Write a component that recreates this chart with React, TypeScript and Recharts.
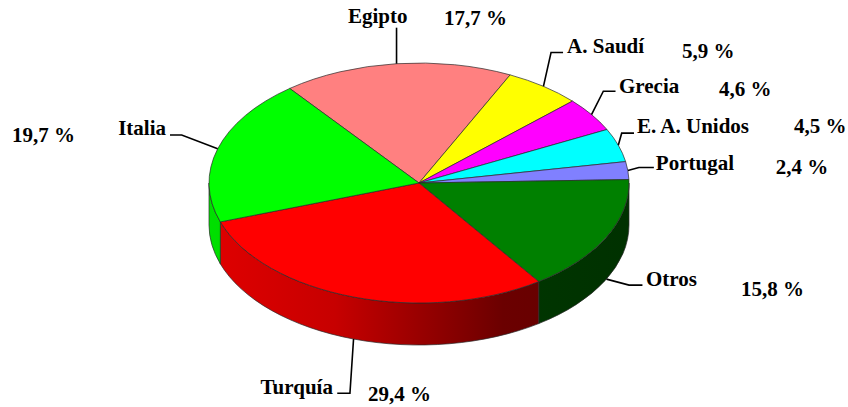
import { PieChart, Pie } from "recharts";

const paises = ["Egipto", "A. Saudí", "Grecia", "E. A. Unidos", "Portugal", "Otros", "Turquía", "Italia"];
const cuotas = [17.7, 5.9, 4.6, 4.5, 2.4, 15.8, 29.4, 19.7];
const colores = ["#FF8080", "#FFFF00", "#FF00FF", "#00FFFF", "#8080FF", "#008000", "#FF0000", "#00FF00"];

// leader lines and labels, offsets from the slice's anchor on the pie edge
const guias = [
  { linea: [[0, -36]], nombre: [-48.5, -41, "start"], pct: [47.5, -39] },
  { linea: [[7.6, -33.8], [19.6, -33.8]], nombre: [23.6, -33.3, "start"], pct: [138.6, -28.3] },
  { linea: [[11.8, -23.4], [24, -23.4]], nombre: [27.5, -22, "start"], pct: [127.5, -18.6] },
  { linea: [[3.4, -12], [15.7, -12]], nombre: [18.7, -12, "start"], pct: [175.7, -12.5] },
  { linea: [[11, -3], [26, -3]], nombre: [28, -1, "start"], pct: [148, 3.5] },
  { linea: [[22.6, 6], [36, 6]], nombre: [39.6, 6.5, "start"], pct: [134.6, 16.5] },
  { linea: [[-3.6, 54.3], [-16.3, 54.3]], nombre: [-20.6, 55, "end"], pct: [14.4, 62.3] },
  { linea: [[-36, -13.8], [-47.7, -13.8]], nombre: [-51.7, -13.8, "end"], pct: [-205.7, -6.8] },
];

const datos = paises.map((name, i) => ({ name, value: cuotas[i], fill: colores[i] }));

const ASPECTO = 120 / 210;
const GROSOR = 42;
const RAD = Math.PI / 180;
const FUENTE = '"Liberation Serif", "Times New Roman", serif';

const norm = (a: number) => ((a % 360) + 360) % 360;

function oscurecer(hex: string, f: number) {
  const n = parseInt(hex.slice(1), 16);
  const r = Math.round(((n >> 16) & 255) * f);
  const g = Math.round(((n >> 8) & 255) * f);
  const b = Math.round((n & 255) * f);
  return `rgb(${r},${g},${b})`;
}

function Porcion(props: any) {
  const { cx, cy, outerRadius, startAngle, endAngle, fill } = props;
  const rx = outerRadius;
  const ry = outerRadius * ASPECTO;
  const a0 = norm(-startAngle);
  const a1 = a0 + Math.abs(startAngle - endAngle);
  const pt = (a: number, dy = 0) => [cx + rx * Math.cos(a * RAD), cy + ry * Math.sin(a * RAD) + dy];
  const [x0, y0] = pt(a0);
  const [x1, y1] = pt(a1);
  const grande = a1 - a0 > 180 ? 1 : 0;
  const cara = `M${cx},${cy}L${x0},${y0}A${rx},${ry} 0 ${grande} 1 ${x1},${y1}Z`;
  const id = `lado-${String(fill).slice(1)}`;
  const lados: string[] = [];
  for (const [lo, hi] of [[0, 180], [360, 540]]) {
    const s = Math.max(a0, lo);
    const e = Math.min(a1, hi);
    if (e > s) {
      const [sx, sy] = pt(s);
      const [ex, ey] = pt(e);
      const [bx, by] = pt(e, GROSOR);
      const [fx, fy] = pt(s, GROSOR);
      lados.push(
        `M${sx},${sy}A${rx},${ry} 0 0 1 ${ex},${ey}L${bx},${by}A${rx},${ry} 0 0 0 ${fx},${fy}Z`
      );
    }
  }
  return (
    <g>
      <defs>
        <linearGradient id={id} gradientUnits="userSpaceOnUse" x1={cx - rx} y1={0} x2={cx + rx} y2={0}>
          <stop offset="0" stopColor={oscurecer(fill, 0.88)} />
          <stop offset="0.3" stopColor={oscurecer(fill, 0.78)} />
          <stop offset="0.7" stopColor={oscurecer(fill, 0.42)} />
          <stop offset="1" stopColor={oscurecer(fill, 0.38)} />
        </linearGradient>
      </defs>
      {lados.map((d, i) => (
        <path key={i} d={d} fill={`url(#${id})`} stroke="#2a2a2a" strokeWidth={0.7} />
      ))}
      <path d={cara} fill={fill} stroke="#2a2a2a" strokeWidth={0.7} strokeLinejoin="round" />
    </g>
  );
}

function Etiqueta(props: any) {
  const { cx, cy, outerRadius, midAngle, percent } = props;
  const nombre = props.payload?.name ?? props.name;
  const i = paises.indexOf(nombre);
  const guia = guias[i];
  if (!guia) return null;
  const a = norm(-midAngle);
  const delante = a > 0 && a < 180;
  const ax = cx + outerRadius * Math.cos(a * RAD);
  const ay = cy + outerRadius * ASPECTO * Math.sin(a * RAD) + (delante ? GROSOR : 0);
  const puntos = [[ax, ay], ...guia.linea.map(([dx, dy]) => [ax + dx, ay + dy])];
  const pct = `${(percent * 100).toFixed(1).replace(".", ",")} %`;
  const [nx, ny, ancla] = guia.nombre as [number, number, string];
  return (
    <g>
      <polyline
        points={puntos.map((p) => p.join(",")).join(" ")}
        fill="none"
        stroke="#000"
        strokeWidth={1.6}
      />
      <text x={ax + nx} y={ay + ny} textAnchor={ancla as any} fontFamily={FUENTE} fontWeight="bold" fontSize={21} fill="#000">
        {nombre}
      </text>
      <text x={ax + guia.pct[0]} y={ay + guia.pct[1]} textAnchor="start" fontFamily={FUENTE} fontWeight="bold" fontSize={21} fill="#000">
        {pct}
      </text>
    </g>
  );
}

export default function App() {
  return (
    <div style={{ position: "absolute", left: 0, top: 0, width: 848, height: 407, background: "#fff" }}>
      <PieChart width={848} height={407} margin={{ top: 0, right: 0, bottom: 0, left: 0 }}>
        <Pie
          data={datos}
          dataKey="value"
          nameKey="name"
          cx={419}
          cy={183}
          outerRadius={210}
          startAngle={128}
          endAngle={-232}
          shape={Porcion}
          label={Etiqueta}
          labelLine={false}
          isAnimationActive={false}
        />
      </PieChart>
    </div>
  );
}
